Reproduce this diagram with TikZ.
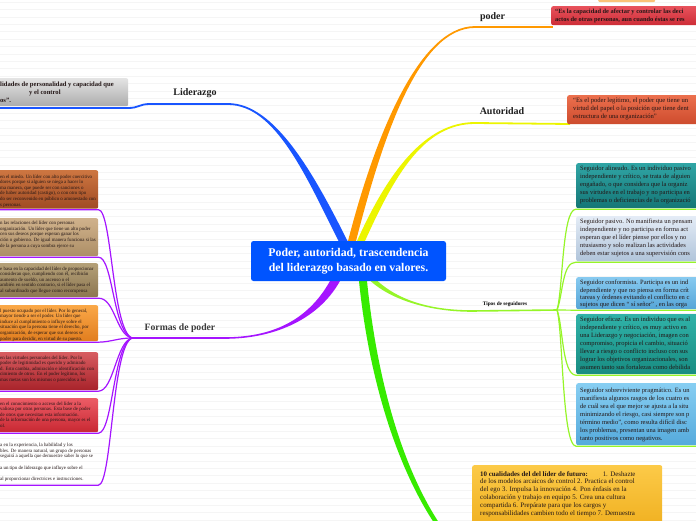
\documentclass[tikz,border=0pt]{standalone}
\usepackage{fontspec}
\setmainfont{Liberation Serif}
\usetikzlibrary{calc}
\definecolor{cBlue}{RGB}{0,84,255}
\definecolor{brBlue}{RGB}{25,85,255}
\definecolor{brOrange}{RGB}{255,153,0}
\definecolor{brYellow}{RGB}{236,245,0}
\definecolor{brLGreen}{RGB}{150,245,40}
\definecolor{brGreen}{RGB}{55,235,0}
\definecolor{brPurple}{RGB}{165,20,255}
\definecolor{txt}{RGB}{35,22,22}
\definecolor{fgrey}{RGB}{60,60,60}
% box colours
\definecolor{lbAt}{RGB}{205,118,65}\definecolor{lbAb}{RGB}{160,75,35}
\definecolor{lbBt}{RGB}{208,178,140}\definecolor{lbBb}{RGB}{172,142,102}
\definecolor{lbCt}{RGB}{180,160,120}\definecolor{lbCb}{RGB}{140,118,80}
\definecolor{lbDt}{RGB}{250,168,72}\definecolor{lbDb}{RGB}{225,125,30}
\definecolor{lbEt}{RGB}{215,92,96}\definecolor{lbEb}{RGB}{168,35,42}
\definecolor{lbFt}{RGB}{236,92,102}\definecolor{lbFb}{RGB}{200,40,50}
\definecolor{pbt}{RGB}{232,82,92}\definecolor{pbb}{RGB}{205,45,55}
\definecolor{abt}{RGB}{236,112,78}\definecolor{abb}{RGB}{205,75,45}
\definecolor{gbt}{RGB}{228,228,228}\definecolor{gbb}{RGB}{172,172,172}
\definecolor{sAt}{RGB}{48,165,165}\definecolor{sAb}{RGB}{20,118,118}
\definecolor{sBt}{RGB}{228,236,246}\definecolor{sBb}{RGB}{176,196,218}
\definecolor{sCt}{RGB}{135,202,240}\definecolor{sCb}{RGB}{85,165,215}
\definecolor{sDt}{RGB}{48,178,168}\definecolor{sDb}{RGB}{24,140,130}
\definecolor{sEt}{RGB}{135,206,242}\definecolor{sEb}{RGB}{85,170,220}
\definecolor{ybt}{RGB}{252,202,72}\definecolor{ybb}{RGB}{240,176,32}
\definecolor{obx}{RGB}{250,195,120}
\newcommand\brtaper[7]{\fill[#1] ($(#2)+#6$) .. controls ($(#3)+#6$) and ($(#4)+#7$) .. ($(#5)+#7$) -- ($(#5)-#7$) .. controls ($(#4)-#7$) and ($(#3)-#6$) .. ($(#2)-#6$) -- cycle;}
\tikzset{
  lbl/.style={font=\fontsize{10}{12}\selectfont\bfseries, inner sep=0, text=black!88},
  boxbg/.style={anchor=north west, inner sep=0, rounded corners=2pt},
  boxtxt/.style={anchor=north west, inner sep=0, align=left, text=txt},
  ltxt/.style={boxtxt, font=\fontsize{4.9}{5.6}\selectfont},
  stxt/.style={boxtxt, font=\fontsize{6.5}{8}\selectfont},
  subP/.style={draw=brPurple, line width=1.2pt},
  subG/.style={draw=brLGreen, line width=1.2pt},
  central/.style={fill=cBlue, rounded corners=2.5pt, text=white, align=center,
    font=\fontsize{11.8}{15}\selectfont\bfseries, minimum width=195pt, minimum height=40pt, inner sep=0},
}
\begin{document}
\begin{tikzpicture}[x=1pt,y=-1pt]
\useasboundingbox (0,0) rectangle (696,520);
\clip (0,0) rectangle (696,520);
\fill[white] (0,0) rectangle (696,520);
\foreach \k in {0,...,70}{\draw[black!4, line width=0.4pt] (0,{\k*7.4+2}) -- (696,{\k*7.4+2});}

% ---------- coordinates ----------
\coordinate (sL) at (343,241); \coordinate (L1) at (310,175); \coordinate (L2) at (275,104); \coordinate (eL) at (228,104);
\coordinate (Lm) at (150,104); \coordinate (Lk) at (128,108); \coordinate (Lg) at (0,108);
\coordinate (sP) at (352,241); \coordinate (P1) at (378,140); \coordinate (P2) at (418,27); \coordinate (eP) at (475,27); \coordinate (pE) at (553,27);
\coordinate (sA) at (361,241); \coordinate (A1) at (392,172); \coordinate (A2) at (425,123); \coordinate (eA) at (475,123); \coordinate (aE) at (570,124);
\coordinate (sF) at (335,281); \coordinate (F1) at (312,322); \coordinate (F2) at (270,338); \coordinate (eF) at (225,338); \coordinate (Ph) at (132,338);
\coordinate (sT) at (374,281); \coordinate (T1) at (395,300); \coordinate (T2) at (430,311); \coordinate (eT) at (472,311); \coordinate (Th) at (557,310);
\coordinate (sG) at (363,281); \coordinate (G1) at (373,380); \coordinate (G2) at (400,470); \coordinate (eG) at (440,528);

% ---------- main branches ----------
\brtaper{brBlue}{sL}{L1}{L2}{eL}{(4.5,0)}{(0,-0.9)}
\draw[brBlue, line width=1.8pt] (eL) -- (Lm) .. controls (139,104) and (139,108) .. (Lk) -- (Lg);
\brtaper{brOrange}{sP}{P1}{P2}{eP}{(4,0)}{(0,0.9)}
\draw[brOrange, line width=1.8pt] (eP) -- (pE);
\brtaper{brYellow}{sA}{A1}{A2}{eA}{(4,0)}{(0,0.9)}
\draw[brYellow, line width=1.8pt] (eA) -- (aE);
\brtaper{brPurple}{sF}{F1}{F2}{eF}{(-5,0)}{(0,-0.8)}
\draw[brPurple, line width=1.6pt] (eF) -- (Ph);
\brtaper{brLGreen}{sT}{T1}{T2}{eT}{(-3.5,0)}{(0,0.8)}
\draw[brLGreen, line width=1.6pt] (eT) -- (Th);
\brtaper{brGreen}{sG}{G1}{G2}{eG}{(-4,0)}{(-2.5,0)}

% ---------- boxes ----------
\node[boxbg, fill=obx, minimum width=57pt, minimum height=5pt] (ob) at (598,-3) {};
\node[boxbg, top color=gbt, bottom color=gbb, minimum width=133pt, minimum height=28pt] (gb) at (-5,78) {};
\node[boxbg, top color=pbt, bottom color=pbb, minimum width=150pt, minimum height=19pt] (pb) at (551,6) {};
\node[boxbg, top color=abt, bottom color=abb, minimum width=135pt, minimum height=29pt] (ab) at (567,95) {};

\node[boxbg, top color=lbAt, bottom color=lbAb, minimum width=103pt, minimum height=38.5pt] (b1) at (-5,170) {};
\node[boxbg, top color=lbBt, bottom color=lbBb, minimum width=103pt, minimum height=38pt] (b2) at (-5,218) {};
\node[boxbg, top color=lbCt, bottom color=lbCb, minimum width=103pt, minimum height=34pt] (b3) at (-5,263) {};
\node[boxbg, top color=lbDt, bottom color=lbDb, minimum width=103pt, minimum height=36pt] (b4) at (-5,305) {};
\node[boxbg, top color=lbEt, bottom color=lbEb, minimum width=103pt, minimum height=38pt] (b5) at (-5,352) {};
\node[boxbg, top color=lbFt, bottom color=lbFb, minimum width=103pt, minimum height=34pt] (b6) at (-5,398) {};
\node[boxbg, minimum width=103pt, minimum height=44pt] (b7) at (-5,440) {};

\node[boxbg, top color=sAt, bottom color=sAb, minimum width=125pt, minimum height=45pt] (s1) at (576,163) {};
\node[boxbg, top color=sBt, bottom color=sBb, minimum width=125pt, minimum height=45pt] (s2) at (576,216) {};
\node[boxbg, top color=sCt, bottom color=sCb, minimum width=125pt, minimum height=32pt] (s3) at (576,277) {};
\node[boxbg, top color=sDt, bottom color=sDb, minimum width=125pt, minimum height=60pt] (s4) at (576,314) {};
\node[boxbg, top color=sEt, bottom color=sEb, minimum width=125pt, minimum height=62pt] (s5) at (576,383) {};
\node[boxbg, top color=ybt, bottom color=ybb, minimum width=190pt, minimum height=62pt] (yb) at (472,465) {};

% ---------- sub connectors: Formas de poder ----------
\draw[subP] (Ph) .. controls (112,330) and (112,209.5) .. ($(b1.south east)+(0,0.8)$) -- ($(b1.south west)+(0,0.8)$);
\draw[subP] (Ph) .. controls (113,332) and (113,256.8) .. ($(b2.south east)+(0,0.8)$) -- ($(b2.south west)+(0,0.8)$);
\draw[subP] (Ph) .. controls (116,335) and (115,297.8) .. ($(b3.south east)+(0,0.8)$) -- ($(b3.south west)+(0,0.8)$);
\draw[subP] (Ph) .. controls (118,338) and (112,341.8) .. ($(b4.south east)+(0,0.8)$) -- ($(b4.south west)+(0,0.8)$);
\draw[subP] (Ph) .. controls (116,342) and (114,390.8) .. ($(b5.south east)+(0,0.8)$) -- ($(b5.south west)+(0,0.8)$);
\draw[subP] (Ph) .. controls (113,345) and (113,432.8) .. ($(b6.south east)+(0,0.8)$) -- ($(b6.south west)+(0,0.8)$);
\draw[subP] (Ph) .. controls (112,346) and (112,484.8) .. ($(b7.south east)+(0,0.8)$) -- ($(b7.south west)+(0,0.8)$);

% ---------- sub connectors: Tipos de seguidores ----------
\draw[subG] (Th) .. controls (563,290) and (562,208.8) .. ($(s1.south west)+(0,0.8)$) -- ($(s1.south east)+(0,0.8)$);
\draw[subG] (Th) .. controls (563,295) and (562,261.8) .. ($(s2.south west)+(0,0.8)$) -- ($(s2.south east)+(0,0.8)$);
\draw[subG] (Th) -- ($(s3.south west)+(0,0.8)$) -- ($(s3.south east)+(0,0.8)$);
\draw[subG] (Th) .. controls (563,325) and (562,374.8) .. ($(s4.south west)+(0,0.8)$) -- ($(s4.south east)+(0,0.8)$);
\draw[subG] (Th) .. controls (563,330) and (562,445.8) .. ($(s5.south west)+(0,0.8)$) -- ($(s5.south east)+(0,0.8)$);

% ---------- box texts ----------
\node[boxtxt, font=\fontsize{6.6}{8}\selectfont\bfseries] (tgb) at (0,81.5) {lidades de personalidad y capacidad que\\\hspace*{29pt}y el control\\os”.};
\node[boxtxt, font=\fontsize{6.4}{8}\selectfont\bfseries] (tpb) at (555,9) {“Es la capacidad de afectar y controlar las deci\\actos de otras personas, aun cuando éstas se res};
\node[boxtxt, font=\fontsize{6.6}{8}\selectfont] (tab) at (573,98) {“Es el poder legítimo, el poder que tiene un\\virtud del papel o la posición que tiene dent\\estructura de una organización”};

\node[ltxt] (tb1) at (0,174.5) {en el miedo. Un líder con alto poder coercitivo\\dores porque si alguien se niega a hacer lo\\ma manera, que puede ser con sanciones o\\de haber autoridad (castigo), o con otro tipo\\do ser reconvenido en público o amonestado con\\s personas.};
\node[ltxt] (tb2) at (0,221) {n las relaciones del líder con personas\\organización. Un líder que tiene un alto poder\\cen sus deseos porque esperan ganar los\\ción o gobierno. De igual manera funciona si las\\de la persona a cuya sombra ejerce su};
\node[ltxt] (tb3) at (0,266.5) {e basa en la capacidad del líder de proporcionar\\consideran que, cumpliendo con él, recibirán\\aumento de sueldo, un ascenso o el\\ambién en sentido contrario, si el líder pasa el\\al subordinado que llegue como recompensa};
\node[ltxt] (tb4) at (0,308.5) {l puesto ocupado por el líder. Por lo general,\\mayor tiende a ser el poder. Un líder que\\induce al cumplimiento o influye sobre el\\situación que la persona tiene el derecho, por\\organización, de esperar que sus deseos se\\poder para decidir, en virtud de su puesto.};
\node[ltxt] (tb5) at (0,355.5) {en las virtudes personales del líder. Por lo\\poder de legitimidad es querido y admirado\\d. Esto cambia, admiración e identificación con\\cimiento de otros. En el poder legítimo, los\\mas metas son los mismos o parecidos a los};
\node[ltxt] (tb6) at (0,401.5) {en el conocimiento o acceso del líder a la\\valiosa por otras personas. Esta base de poder\\de otros que necesitan esta información.\\de la información de una persona, mayor es el\\ol.};
\node[ltxt] (tb7) at (0,443) {a en la experiencia, la habilidad y los\\bles. De manera natural, un grupo de personas\\seguirá a aquella que demuestre saber lo que se\\[5.6pt]a un tipo de liderazgo que influye sobre el\\[5.6pt]al proporcionar directrices e instrucciones.};

\node[stxt] (ts1) at (580,166) {Seguidor alineado. Es un individuo pasivo\\independiente y crítico, se trata de alguien\\engañado, o que considera que la organiz\\sus virtudes en el trabajo y no participa en\\problemas o deficiencias de la organizació};
\node[stxt] (ts2) at (580,219) {Seguidor pasivo. No manifiesta un pensam\\independiente y no participa en forma act\\esperan que el líder piense por ellos y no\\ntusiasmo y solo realizan las actividades\\deben estar sujetos a una supervisión cons};
\node[stxt, font=\fontsize{6.5}{7.4}\selectfont] (ts3) at (580,280) {Seguidor conformista. Participa es un ind\\dependiente y que no piensa en forma crít\\tareas y órdenes evitando el conflicto en c\\sujetos que dicen “ sí señor” , en las orga};
\node[stxt] (ts4) at (580,317) {Seguidor eficaz. Es un individuo que es al\\independiente y crítico, es muy activo en\\una Liderazgo y negociación, imagen con\\compromiso, propicia el cambio, situació\\llevar a riesgo o conflicto incluso con sus\\lograr los objetivos organizacionales, son\\asumen tanto sus fortalezas como debilida};
\node[stxt] (ts5) at (580,388) {Seguidor sobreviviente pragmático. Es un\\manifiesta algunos rasgos de los cuatro es\\de cuál sea el que mejor se ajusta a la situ\\minimizando el riesgo, casi siempre son p\\término medio”, como resulta difícil disc\\los problemas, presentan una imagen amb\\tanto positivos como negativos.};

\node[boxtxt, font=\fontsize{6.9}{7.8}\selectfont] (tyb) at (480,471) {\textbf{10 cualidades del del líder de futuro:}\hspace{15pt}1. Deshazte\\de los modelos arcaicos de control 2. Practica el control\\del ego 3. Impulsa la innovación 4. Pon énfasis en la\\colaboración y trabajo en equipo 5. Crea una cultura\\compartida 6. Prepárate para que los cargos y\\responsabilidades cambien todo el tiempo 7. Demuestra};

% ---------- central node and labels ----------
\node[central] (c) at (348.5,261) {Poder, autoridad, trascendencia\\del liderazgo basado en valores.};
\node[lbl] (lLid) at (195,93) {Liderazgo};
\node[lbl] (lPod) at (492.5,17) {poder};
\node[lbl] (lAut) at (502,111) {Autoridad};
\node[lbl, text=fgrey, font=\fontsize{9.7}{11}\selectfont\bfseries] (lFor) at (180,328) {Formas de poder};
\node[inner sep=0, font=\fontsize{5.3}{6}\selectfont\bfseries] (lTip) at (505,304) {Tipos de seguidores};
\end{tikzpicture}
\end{document}
